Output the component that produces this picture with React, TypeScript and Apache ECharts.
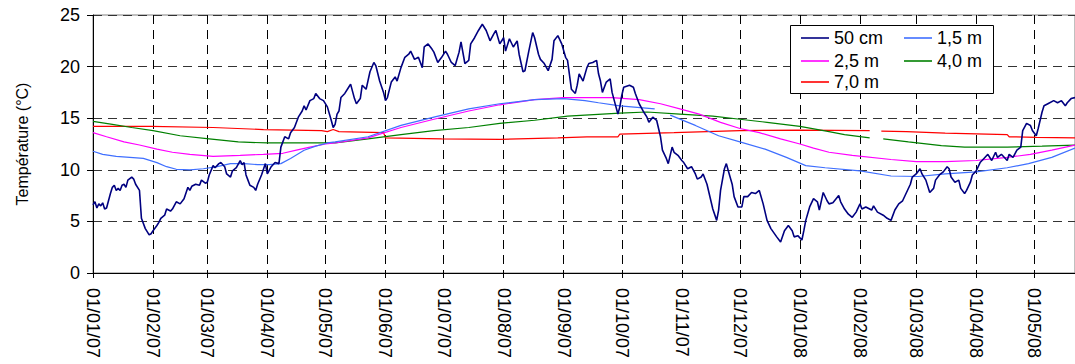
import React, { useEffect, useRef } from "react";
import * as echarts from "echarts";

const FONT = "'Liberation Sans', Arial, Helvetica, sans-serif";

// Categories: one per day from 01/01/07 (index 0) to 21/05/08 (index 507)
const START = Date.UTC(2007, 0, 1);
const NUM_DAYS = 508;
const dayLabels: string[] = [];
for (let i = 0; i < NUM_DAYS; i++) {
  const d = new Date(START + i * 86400000);
  const dd = String(d.getUTCDate()).padStart(2, "0");
  const mm = String(d.getUTCMonth() + 1).padStart(2, "0");
  const yy = String(d.getUTCFullYear() % 100).padStart(2, "0");
  dayLabels.push(`${dd}/${mm}/${yy}`);
}

const yTicks = [0, 5, 10, 15, 20, 25];

// [day index, °C]
const s50cm: [number, number][] = [
  [0, 6.6], [1, 6.9], [2, 6.3], [3, 6.7], [4, 6.5], [5, 6.8], [6, 6.2], [7, 6.3], [9, 7.7], [10, 8.3],
  [11, 8.5], [12, 8.0], [13, 8.2], [14, 8.0], [15, 8.5], [16, 8.6], [17, 8.3], [18, 9.0], [20, 9.3], [21, 9.1],
  [22, 8.6], [24, 8.0], [25, 5.3], [27, 4.3], [29, 3.7], [30, 3.8], [31, 4.1], [33, 4.6], [34, 4.9], [35, 5.3],
  [37, 5.6], [38, 6.2], [40, 6.0], [41, 6.2], [43, 6.9], [45, 6.7], [47, 7.2], [49, 8.3], [50, 8.0], [51, 8.4],
  [53, 8.6], [55, 8.5], [56, 9.0], [58, 8.7], [59, 8.8], [60, 9.5], [62, 10.4], [63, 10.2], [65, 10.6], [66, 10.7],
  [68, 10.3], [69, 9.6], [71, 9.3], [72, 9.9], [74, 10.2], [76, 10.9], [77, 10.5], [78, 10.7], [79, 9.5], [80, 9.0],
  [81, 8.5], [83, 8.3], [84, 8.0], [85, 8.6], [87, 9.5], [89, 10.6], [90, 9.6], [92, 10.3], [94, 10.7], [96, 10.6],
  [97, 12.2], [99, 13.2], [101, 13.0], [102, 13.6], [104, 14.1], [106, 15.1], [108, 15.7], [109, 16.2], [110, 15.8], [112, 16.7],
  [114, 16.9], [115, 17.4], [117, 16.9], [119, 16.7], [121, 16.1], [123, 14.8], [124, 14.1], [125, 14.4], [126, 15.4], [127, 15.7],
  [128, 17.0], [130, 17.4], [132, 18.0], [133, 18.3], [135, 16.9], [136, 16.4], [138, 16.9], [139, 18.2], [141, 17.8], [143, 19.5],
  [145, 20.4], [146, 20.1], [148, 18.6], [150, 17.5], [151, 16.7], [152, 17.0], [154, 18.5], [156, 19.0], [157, 18.6], [159, 19.9],
  [161, 20.9], [163, 21.2], [164, 21.5], [166, 20.7], [168, 20.9], [170, 19.9], [171, 21.9], [173, 22.2], [175, 21.7], [176, 21.4],
  [178, 20.4], [180, 20.9], [182, 21.5], [183, 21.2], [185, 20.4], [187, 20.1], [189, 21.4], [190, 22.4], [192, 20.3], [194, 20.6],
  [195, 22.2], [197, 22.8], [199, 23.5], [201, 24.1], [203, 23.5], [205, 22.5], [207, 23.2], [208, 23.5], [210, 22.2], [212, 22.8],
  [213, 21.5], [215, 22.7], [217, 21.9], [219, 22.5], [220, 21.2], [222, 19.5], [223, 19.6], [225, 21.5], [227, 23.3], [228, 22.8],
  [230, 21.2], [231, 20.7], [233, 20.3], [235, 19.6], [237, 20.7], [238, 22.5], [240, 23.0], [242, 22.2], [244, 20.9], [245, 20.6],
  [247, 17.8], [249, 17.4], [250, 18.2], [251, 19.3], [253, 18.6], [255, 19.9], [256, 20.3], [258, 20.4], [260, 20.6], [261, 19.3],
  [262, 18.6], [263, 17.5], [265, 18.5], [267, 18.8], [268, 17.5], [270, 16.1], [271, 15.4], [272, 16.1], [273, 17.2], [274, 18.0],
  [277, 18.2], [279, 18.0], [280, 17.4], [282, 16.4], [284, 15.7], [286, 15.1], [287, 14.6], [289, 15.1], [291, 14.8], [293, 13.2],
  [294, 11.9], [296, 11.1], [297, 10.6], [299, 12.2], [300, 11.7], [302, 11.4], [304, 10.9], [305, 10.7], [307, 10.1], [309, 10.3],
  [311, 9.6], [312, 9.1], [314, 9.3], [315, 9.6], [317, 8.6], [318, 7.8], [320, 6.2], [322, 5.1], [323, 6.1], [324, 8.0],
  [326, 10.1], [327, 10.6], [328, 9.9], [330, 8.6], [331, 7.4], [333, 6.4], [335, 6.4], [336, 7.4], [338, 7.4], [340, 7.8],
  [342, 7.7], [344, 8.0], [346, 6.7], [348, 5.1], [350, 4.3], [353, 3.5], [355, 3.0], [357, 4.1], [359, 4.6], [361, 4.1],
  [362, 3.5], [364, 3.6], [366, 3.2], [367, 4.1], [368, 5.1], [370, 6.4], [372, 7.2], [374, 6.9], [375, 6.1], [377, 7.8],
  [379, 7.0], [380, 6.7], [382, 6.8], [385, 7.5], [386, 6.9], [388, 6.2], [390, 5.7], [392, 5.4], [394, 5.9], [396, 6.7],
  [397, 6.2], [399, 6.4], [402, 6.1], [403, 6.5], [405, 5.9], [408, 5.6], [410, 5.3], [412, 5.1], [414, 6.1], [416, 6.7],
  [418, 7.0], [420, 7.8], [422, 8.6], [423, 9.3], [425, 9.6], [427, 10.1], [428, 9.6], [430, 9.0], [432, 7.8], [434, 8.2],
  [435, 9.0], [437, 9.5], [439, 9.8], [441, 10.3], [442, 10.1], [443, 9.3], [445, 8.8], [447, 9.0], [448, 8.2], [450, 7.7],
  [451, 8.0], [453, 8.8], [454, 9.5], [456, 9.9], [458, 10.7], [460, 11.1], [462, 11.5], [464, 10.9], [466, 11.7], [467, 11.2],
  [469, 11.5], [472, 10.9], [473, 11.5], [475, 11.2], [477, 11.9], [479, 12.2], [480, 13.8], [482, 14.5], [484, 14.3], [485, 13.8],
  [487, 13.3], [488, 14.0], [490, 15.6], [491, 16.2], [493, 16.4], [496, 16.7], [498, 16.5], [500, 16.7], [502, 16.2], [503, 16.5],
  [505, 16.9], [507, 17.0],
];

const s1_5m: [number, number | string][] = [
  [0, 11.8], [5, 11.5], [12, 11.3], [19, 11.2], [26, 11.1], [33, 10.7], [38, 10.3], [43, 10.05], [50, 10.0], [57, 10.1],
  [64, 10.3], [71, 10.6], [78, 10.6], [85, 10.5], [91, 10.5], [97, 10.6], [102, 11.1], [109, 11.9], [115, 12.3], [121, 12.6],
  [125, 12.7], [142, 13.2], [159, 14.3], [176, 15.1], [194, 15.9], [210, 16.4], [228, 16.8], [243, 16.9], [254, 16.7], [261, 16.5],
  [272, 16.2], [284, 16.0], [290, 15.9], [294, "-"], [298, 15.3], [311, 14.3], [323, 13.3], [334, 12.7], [347, 12.0], [358, 11.2],
  [368, 10.4], [378, 10.2], [396, 9.9], [412, 9.4], [426, 9.35], [440, 9.6], [456, 9.8], [472, 10.2], [483, 10.6], [495, 11.2],
  [507, 12.1],
];

const s2_5m: [number, number][] = [
  [0, 13.6], [7, 13.2], [16, 12.7], [24, 12.4], [33, 12.0], [41, 11.7], [50, 11.5], [62, 11.3], [76, 11.4], [88, 11.5],
  [98, 11.6], [105, 11.9], [112, 12.2], [120, 12.5], [125, 12.6], [142, 13.1], [159, 14.1], [176, 14.9], [194, 15.7], [210, 16.3],
  [228, 16.8], [243, 17.0], [254, 17.0], [268, 17.0], [282, 16.8], [293, 16.4], [303, 15.9], [313, 15.4], [324, 14.6], [334, 14.0],
  [344, 13.6], [355, 13.0], [365, 12.5], [372, 12.1], [380, 11.7], [392, 11.4], [412, 11.0], [425, 10.8], [440, 10.8], [456, 10.9],
  [472, 11.2], [484, 11.5], [495, 11.9], [507, 12.4],
];

const s4_0m: [number, number | string][] = [
  [0, 14.7], [10, 14.4], [20, 14.1], [31, 13.8], [45, 13.3], [60, 13.0], [75, 12.7], [90, 12.6], [110, 12.6], [125, 12.6],
  [142, 13.0], [159, 13.4], [176, 13.8], [194, 14.1], [210, 14.5], [228, 14.8], [245, 15.2], [254, 15.3], [272, 15.5], [286, 15.6],
  [303, 15.4], [320, 15.2], [334, 14.9], [348, 14.6], [365, 14.2], [380, 13.7], [388, 13.4], [401, 13.1], [404, "-"], [408, 13.0],
  [421, 12.7], [438, 12.35], [450, 12.2], [472, 12.2], [490, 12.3], [507, 12.4],
];

const s7_0m: [number, number | string][] = [
  [0, 14.2], [30, 14.2], [62, 14.1], [88, 13.9], [118, 13.8], [121, 13.7], [124, 13.9], [127, 13.7], [150, 13.6], [151, 13.1],
  [180, 13.0], [210, 12.95], [240, 13.1], [255, 13.2], [271, 13.2], [272, 13.45], [300, 13.6], [334, 13.8], [365, 13.85], [401, 13.8],
  [404, "-"], [407, 13.75], [420, 13.7], [440, 13.55], [472, 13.4], [473, 13.2], [487, 13.15], [507, 13.1],
];

const seriesNames = ["50 cm", "1,5 m", "2,5 m", "4,0 m", "7,0 m"];
const seriesColors = ["#000080", "#3F6FFF", "#FF00FF", "#008000", "#FF0000"];
const seriesData = [s50cm, s1_5m, s2_5m, s4_0m, s7_0m];
const seriesWidths = [1.6, 1.2, 1.2, 1.2, 1.2];

const isMonthStart = (_i: number, v: string) => v.startsWith("01/");

export default function App() {
  const ref = useRef<HTMLDivElement>(null);
  useEffect(() => {
    if (!ref.current) return;
    const chart = echarts.init(ref.current, undefined, { renderer: "svg" });
    const legendPos = [
      { left: 801, top: 29 },
      { left: 904, top: 29 },
      { left: 801, top: 52 },
      { left: 904, top: 52 },
      { left: 801, top: 73 },
    ];
    chart.setOption({
      animation: false,
      backgroundColor: "#ffffff",
      textStyle: { fontFamily: FONT },
      grid: {
        left: 93,
        right: 0,
        top: 15,
        bottom: 91,
        containLabel: false,
        outerBoundsMode: "none",
        show: true,
        borderColor: "#808080",
        borderWidth: 1,
      },
      xAxis: {
        type: "category",
        data: dayLabels,
        boundaryGap: false,
        axisLine: { show: true, lineStyle: { color: "#000", width: 1 } },
        axisTick: { show: true, interval: isMonthStart, length: 5, lineStyle: { color: "#000" } },
        axisLabel: {
          interval: isMonthStart,
          rotate: -90,
          margin: 15,
          fontSize: 18,
          color: "#000",
          fontFamily: FONT,
        },
        splitLine: {
          show: true,
          interval: isMonthStart,
          lineStyle: { color: "#000", width: 1, type: [9, 6] },
        },
      },
      yAxis: {
        type: "value",
        min: yTicks[0],
        max: yTicks[yTicks.length - 1],
        interval: 5,
        name: "Température (°C)",
        nameLocation: "middle",
        nameGap: 63,
        nameRotate: 90,
        nameTextStyle: { fontSize: 16, color: "#000", fontFamily: FONT },
        axisLine: { show: true, lineStyle: { color: "#000", width: 1 } },
        axisTick: { show: true, length: 6, lineStyle: { color: "#000" } },
        axisLabel: { fontSize: 18, color: "#000", margin: 13, fontFamily: FONT },
        splitLine: { show: true, lineStyle: { color: "#333", width: 1, type: [9, 6] } },
      },
      legend: seriesNames.map((n, i) => ({
        data: [n],
        left: legendPos[i].left,
        top: legendPos[i].top,
        padding: 0,
        icon: "rect",
        itemWidth: 28,
        itemHeight: 1.6,
        selectedMode: false,
        textStyle: { fontSize: 18, color: "#000", fontFamily: FONT, padding: [0, 0, 0, 0] },
        z: 10,
      })),
      graphic: [
        {
          type: "rect",
          z: 5,
          shape: { x: 790.5, y: 25.5, width: 203, height: 68 },
          style: { fill: "#ffffff", stroke: "#000", lineWidth: 1 },
        },
      ],
      series: seriesNames.map((n, i) => ({
        name: n,
        type: "line",
        data: seriesData[i],
        symbol: "none",
        showSymbol: false,
        connectNulls: false,
        lineStyle: { color: seriesColors[i], width: seriesWidths[i] },
        itemStyle: { color: seriesColors[i] },
        z: 2 + (4 - i) * 0.1,
      })),
    });
    return () => chart.dispose();
  }, []);
  return (
    <div
      ref={ref}
      style={{ position: "fixed", left: 0, top: 0, width: 1075, height: 364, background: "#fff" }}
    />
  );
}
